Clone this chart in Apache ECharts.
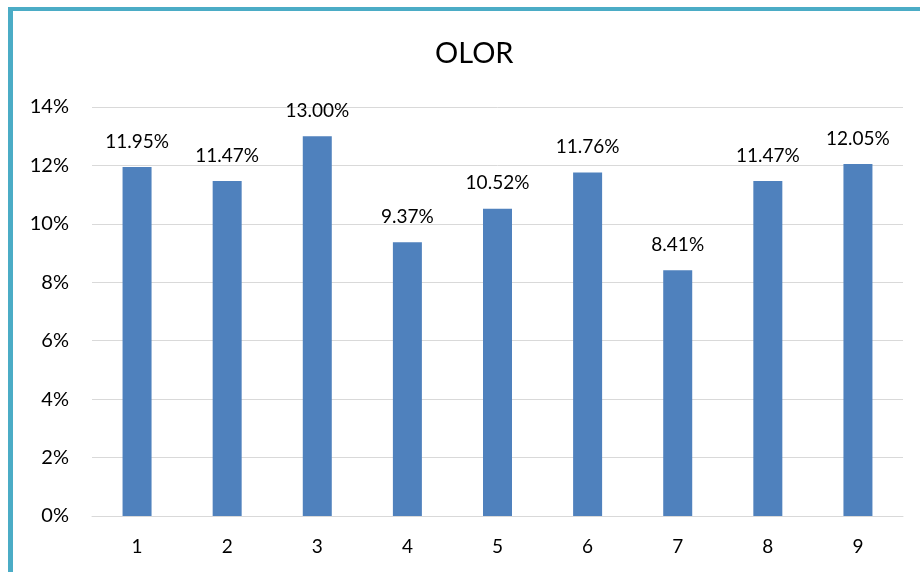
<!DOCTYPE html>
<html>
<head>
<meta charset="utf-8">
<script src="https://cdn.jsdelivr.net/npm/echarts@6/dist/echarts.min.js"></script>
<style>
  html, body { margin: 0; padding: 0; background: #fff; }
  #chart { width: 920px; height: 572px; }
</style>
</head>
<body>
<div id="chart"></div>
<script>
const categories = ['1', '2', '3', '4', '5', '6', '7', '8', '9']
const olorValues = [11.95, 11.47, 13.00, 9.37, 10.52, 11.76, 8.41, 11.47, 12.05]
const yTicks = [0, 2, 4, 6, 8, 10, 12, 14]

const font = 'Lato, "Open Sans", sans-serif'
const myChart = echarts.init(document.getElementById('chart'))

myChart.setOption({
    animation: false,
    backgroundColor: '#fff',
    title: {
        text: 'OLOR',
        left: 430,
        top: 34,
        textStyle: {
            fontFamily: font,
            fontSize: 29,
            fontWeight: 'normal',
            color: '#000'
        }
    },
    graphic: [
        { type: 'rect', shape: { x: 8, y: 7, width: 912, height: 4 }, style: { fill: '#4bacc6' } },
        { type: 'rect', shape: { x: 8, y: 7, width: 5, height: 565 }, style: { fill: '#4bacc6' } }
    ],
    grid: {
        left: 92,
        right: 17,
        top: 107,
        bottom: 56
    },
    xAxis: {
        type: 'category',
        data: categories,
        axisLine: { show: true, lineStyle: { color: '#d9d9d9', width: 1 } },
        axisTick: { show: false },
        axisLabel: {
            fontFamily: font,
            fontSize: 19,
            color: '#000',
            margin: 21
        }
    },
    yAxis: {
        type: 'value',
        min: yTicks[0],
        max: yTicks[yTicks.length - 1],
        interval: 2,
        axisLine: { show: false },
        axisTick: { show: false },
        splitLine: { show: true, lineStyle: { color: '#d9d9d9', width: 1 } },
        axisLabel: {
            fontFamily: font,
            fontSize: 20,
            color: '#000',
            margin: 23,
            formatter: '{value}%'
        }
    },
    series: [
        {
            name: 'OLOR',
            type: 'bar',
            data: olorValues,
            barWidth: 29,
            itemStyle: { color: '#4f81bd' },
            label: {
                show: true,
                position: 'top',
                distance: 16,
                fontFamily: font,
                fontSize: 19,
                color: '#000',
                formatter: p => p.value.toFixed(2) + '%'
            }
        }
    ]
})
</script>
</body>
</html>
